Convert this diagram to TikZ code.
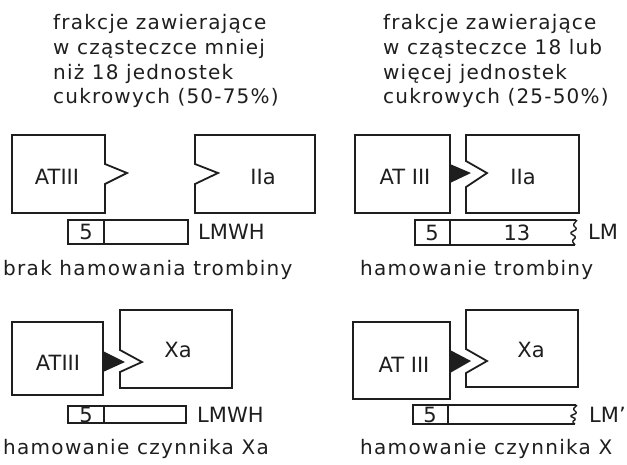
\documentclass[tikz,border=0pt]{standalone}
\usepackage{fontspec}
\setmainfont{DejaVu Sans}
\newfontfamily\capfont[LetterSpace=6.5]{DejaVu Sans}
\newfontfamily\headfont[LetterSpace=6]{DejaVu Sans}
\definecolor{ink}{HTML}{1E1E1E}

\begin{document}
\begin{tikzpicture}[x=1pt,y=-1pt,
  outline/.style={draw=ink, line width=1.8pt, line join=miter},
  barline/.style={draw=ink, line width=1.4pt},
  wedge/.style={fill=ink},
  lab/.style={text=ink, font=\fontsize{21}{24}\selectfont, inner sep=0pt},
  sidelab/.style={lab, anchor=west},
  captext/.style={text=ink, font=\capfont\fontsize{20}{24}\selectfont, inner sep=0pt, anchor=base west},
  head/.style={text=ink, font=\headfont\fontsize{20}{24}\selectfont, inner sep=0pt, anchor=base west},
  squiggle/.style={barline, rounded corners=1.2pt},
]
\useasboundingbox (0,0) rectangle (627,464);

% column headings, one node per line
\node[head] (hL1) at (53,29.5) {frakcje zawierające};
\node[head] (hL2) at (53,54.5) {w cząsteczce mniej};
\node[head] (hL3) at (53,79) {niż 18 jednostek};
\node[head] (hL4) at (53,103) {cukrowych (50-75\%)};
\node[head] (hR1) at (383,29.5) {frakcje zawierające};
\node[head] (hR2) at (383,54.5) {w cząsteczce 18 lub};
\node[head] (hR3) at (383,79) {więcej jednostek};
\node[head] (hR4) at (383,103) {cukrowych (25-50\%)};

% ---- top left: no thrombin inhibition
\draw[outline] (12,135) -- (105,135) -- (105,164) -- (127,173) -- (105,184) -- (105,213) -- (12,213) -- cycle;
\draw[outline] (195,135) -- (315,135) -- (315,213) -- (195,213) -- (195,184) -- (218,173) -- (195,164) -- cycle;
\node[lab] (at1) at (57,177) {ATIII};
\node[lab] (t1) at (263,177) {IIa};
\draw[barline] (68,220) rectangle (188,244);
\draw[barline] (104,220) -- (104,244);
\node[lab] (n1) at (86,232) {5};
\node[sidelab] (lmwh1) at (198,232) {LMWH};
\node[captext] (c1) at (3,275) {brak hamowania trombiny};

% ---- top right: thrombin inhibition
\draw[outline] (355,135) rectangle (450,213);
\fill[wedge] (450,164) -- (471,173) -- (450,183) -- cycle;
\draw[outline] (466,135) -- (579,135) -- (579,213) -- (466,213) -- (466,187) -- (487,173) -- (466,161) -- cycle;
\node[lab] (at2) at (405,177) {AT III};
\node[lab] (t2) at (523,177) {IIa};
\draw[barline] (576,220) -- (415,220) -- (415,245) -- (575,245);
\draw[barline] (450,220) -- (450,245);
\draw[squiggle] (577,220) -- (573,225) -- (577,229) -- (570,233) -- (576,237) -- (572,241) -- (575,245);
\node[lab] (n2) at (432,232.5) {5};
\node[lab] (n2b) at (517,232.5) {13};
\node[sidelab] (lm2) at (588,232) {LM};
\node[captext] (c2) at (360,275) {hamowanie trombiny};

% ---- bottom left: factor Xa inhibition
\draw[outline] (12,322) rectangle (103,395);
\fill[wedge] (103,351) -- (125,362) -- (103,372) -- cycle;
\draw[outline] (120,310) -- (232,310) -- (232,388) -- (120,388) -- (120,372) -- (142,362) -- (120,350) -- cycle;
\node[lab] (at3) at (58,363) {ATIII};
\node[lab] (x3) at (178,350) {Xa};
\draw[barline] (68,406) rectangle (186,423);
\draw[barline] (104,406) -- (104,423);
\node[lab] (n3) at (86,414.5) {5};
\node[sidelab] (lmwh3) at (197,415) {LMWH};
\node[captext] (c3) at (3,454) {hamowanie czynnika Xa};

% ---- bottom right: factor Xa inhibition
\draw[outline] (353,322) rectangle (450,399);
\fill[wedge] (450,350) -- (471,361) -- (450,373) -- cycle;
\draw[outline] (466,310) -- (578,310) -- (578,387) -- (466,387) -- (466,373) -- (487,361) -- (466,349) -- cycle;
\node[lab] (at4) at (404,365) {AT III};
\node[lab] (x4) at (531,350) {Xa};
\draw[barline] (576,405) -- (413,405) -- (413,424) -- (575,424);
\draw[barline] (448,405) -- (448,424);
\draw[squiggle] (577,405) -- (573,409) -- (577,413) -- (570,416) -- (576,419) -- (572,422) -- (575,424);
\node[lab] (n4) at (430,414.5) {5};
\node[sidelab] (lm4) at (589,415) {LM’};
\node[captext] (c4) at (360,454) {hamowanie czynnika X};
\end{tikzpicture}
\end{document}
